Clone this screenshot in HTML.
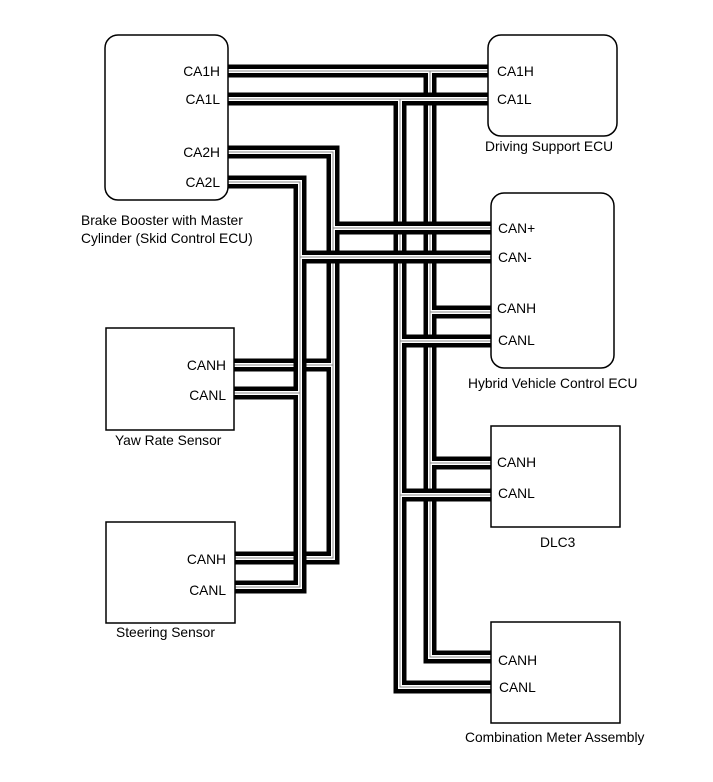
<!DOCTYPE html>
<html><head><meta charset="utf-8"><style>
html,body{margin:0;padding:0;background:#fff;}
svg{display:block;}
text{font-family:"Liberation Sans",Arial,sans-serif;font-size:13.8px;fill:#000;}
</style></head><body>
<svg width="713" height="782" viewBox="0 0 713 782" xmlns="http://www.w3.org/2000/svg">
<defs>
<g id="n1h"><path d="M228,71 H488 M430,71 V657 H491 M430,312 H491 M430,463 H491"/></g>
<g id="n1l"><path d="M228,99 H488 M400,99 V687 H491 M400,341 H491 M400,495 H491"/></g>
<g id="n2h"><path d="M228,152 H333 V558 H234 M333,228 H491 M333,365 H234"/></g>
<g id="n2l"><path d="M228,182 H300 V587 H234 M300,257 H491 M300,393 H234"/></g>
</defs>
<g fill="none" stroke-linejoin="miter" stroke-linecap="butt">
<g stroke="#000" stroke-width="13"><use href="#n1h"/></g>
<g stroke="#fff" stroke-width="4"><use href="#n1h"/></g>
<g stroke="#888" stroke-width="1"><use href="#n1h"/></g>
<g stroke="#000" stroke-width="13"><use href="#n1l"/></g>
<g stroke="#fff" stroke-width="4"><use href="#n1l"/></g>
<g stroke="#888" stroke-width="1"><use href="#n1l"/></g>
<g stroke="#000" stroke-width="13"><use href="#n2h"/></g>
<g stroke="#fff" stroke-width="4"><use href="#n2h"/></g>
<g stroke="#888" stroke-width="1"><use href="#n2h"/></g>
<g stroke="#000" stroke-width="13"><use href="#n2l"/></g>
<g stroke="#fff" stroke-width="4"><use href="#n2l"/></g>
<g stroke="#888" stroke-width="1"><use href="#n2l"/></g>
</g>
<g fill="#fff" stroke="#000" stroke-width="1.5">
<rect x="105" y="35" width="123" height="165" rx="13"/>
<rect x="488" y="35" width="129" height="101" rx="13"/>
<rect x="491" y="193" width="123" height="175" rx="13"/>
<rect x="106" y="328" width="128" height="102"/>
<rect x="491" y="426" width="129" height="101"/>
<rect x="106" y="522" width="129" height="101"/>
<rect x="491" y="622" width="129" height="101"/>
</g>
<g text-anchor="end">
<text x="220" y="76">CA1H</text>
<text x="220" y="104">CA1L</text>
<text x="220" y="157">CA2H</text>
<text x="220" y="187">CA2L</text>
<text x="226" y="370">CANH</text>
<text x="226" y="400">CANL</text>
<text x="226" y="564">CANH</text>
<text x="226" y="595">CANL</text>
</g>
<text x="497" y="76">CA1H</text>
<text x="497" y="104">CA1L</text>
<text x="498" y="233">CAN+</text>
<text x="498" y="262">CAN-</text>
<text x="497" y="313">CANH</text>
<text x="498" y="345">CANL</text>
<text x="497" y="467">CANH</text>
<text x="498" y="498">CANL</text>
<text x="498" y="665">CANH</text>
<text x="499" y="692">CANL</text>
<text x="81" y="225">Brake Booster with Master</text>
<text x="81" y="243">Cylinder (Skid Control ECU)</text>
<text x="485" y="151">Driving Support ECU</text>
<text x="468" y="388">Hybrid Vehicle Control ECU</text>
<text x="115" y="445">Yaw Rate Sensor</text>
<text x="540" y="547">DLC3</text>
<text x="116" y="637">Steering Sensor</text>
<text x="465" y="742">Combination Meter Assembly</text>
</svg>
</body></html>
